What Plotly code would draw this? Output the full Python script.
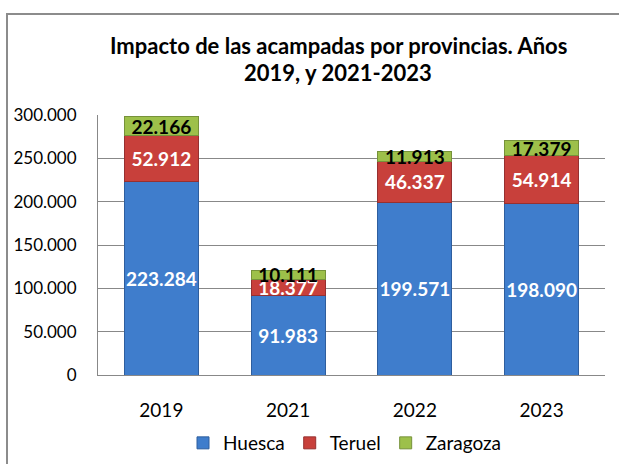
import plotly.graph_objects as go

years = ["2019", "2021", "2022", "2023"]
huesca = [223284, 91983, 199571, 198090]
teruel = [52912, 18377, 46337, 54914]
zaragoza = [22166, 10111, 11913, 17379]
title_line1 = "Impacto de las acampadas por provincias. Años"
title_line2 = "2019, y 2021-2023"

W, H = 619, 464
L, R, T, B = 98, 14, 115, 89
pw, ph = W - L - R, H - T - B

def px_x(x):
    return (x - L) / pw

def px_y(y):
    return (H - B - y) / ph

FONT = "Lato"

fig = go.Figure()
series = [
    ("Huesca", huesca, "#3F7DCC", "#2E5E9E", "white"),
    ("Teruel", teruel, "#C8403B", "#963030", "white"),
    ("Zaragoza", zaragoza, "#9DC04A", "#76923A", "black"),
]
for name, vals, col, edge, tcol in series:
    fig.add_trace(go.Bar(
        x=years, y=vals, name=name,
        marker=dict(color=col, line=dict(color=edge, width=1)),
        texttemplate="%{y:,.0f}", textposition="inside",
        insidetextanchor="middle", constraintext="none",
        textangle=0,
        textfont=dict(family=FONT, size=19, color=tcol, weight="bold"),
    ))

fig.update_layout(
    width=W, height=H,
    margin=dict(l=L, r=R, t=T, b=B, autoexpand=False),
    barmode="stack", bargap=0.416,
    separators=",.",
    paper_bgcolor="white", plot_bgcolor="white",
    font=dict(family=FONT, size=16, color="black"),
    showlegend=True,
    legend=dict(orientation="h", x=px_x(345), xanchor="center",
                y=px_y(443), yanchor="middle",
                font=dict(family=FONT, size=19), itemwidth=30,
                traceorder="normal"),
    uniformtext=dict(mode="show", minsize=19),
    xaxis=dict(showline=True, linecolor="#888888", linewidth=1,
               ticks="", ticklabelstandoff=18,
               tickfont=dict(size=19)),
    yaxis=dict(range=[0, 300000], dtick=50000, tickformat=",.0f",
               showgrid=True, gridcolor="#888888", gridwidth=1,
               showline=True, linecolor="#888888", linewidth=1,
               ticks="", ticklabelstandoff=17, zeroline=False,
               tickfont=dict(size=17)),
    annotations=[
        dict(text=title_line1, x=px_x(338), y=px_y(45), xref="paper", yref="paper",
             showarrow=False, xanchor="center", yanchor="middle",
             font=dict(family=FONT, size=22, weight="bold", color="black")),
        dict(text=title_line2, x=px_x(338), y=px_y(73), xref="paper", yref="paper",
             showarrow=False, xanchor="center", yanchor="middle",
             font=dict(family=FONT, size=22, weight="bold", color="black")),
    ],
    shapes=[
        dict(type="rect", xref="paper", yref="paper",
             x0=px_x(7), x1=px_x(640), y0=px_y(480), y1=px_y(14),
             line=dict(color="#8C8C8C", width=2), layer="below"),
    ],
)

fig.write_html("out.html", config={"displayModeBar": False},
               post_script="document.body.style.margin='0';")
